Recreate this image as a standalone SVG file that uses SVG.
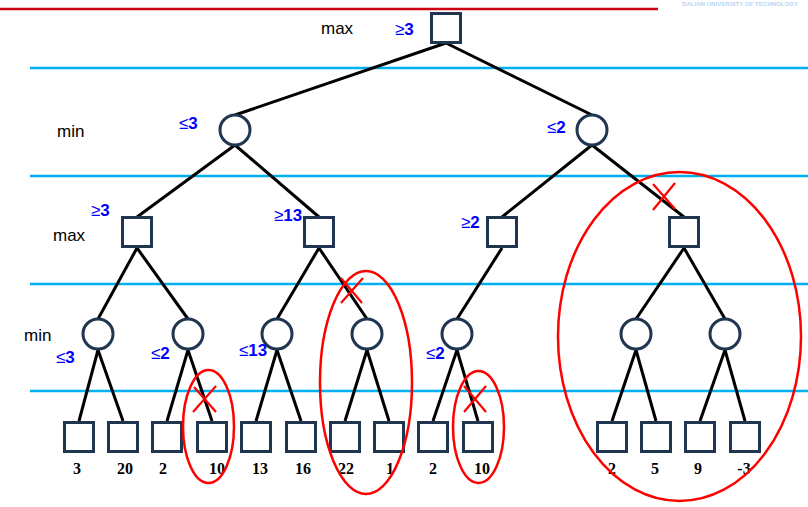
<svg xmlns="http://www.w3.org/2000/svg" width="808" height="507" viewBox="0 0 808 507">
<style>
.sq{fill:#fff;stroke:#1f3550;stroke-width:3}
.ci{fill:#fff;stroke:#1f3550;stroke-width:3}
.e{stroke:#000;stroke-width:3;fill:none}
.band{stroke:#00b0f0;stroke-width:2.5}
.lvl{font-family:"Liberation Sans",Arial,sans-serif;font-size:17px;fill:#000}
.bnd{font-family:"Liberation Sans",Arial,sans-serif;font-size:17px;font-weight:bold;fill:#0000ff}
.bnd .s{font-weight:normal}
.val{font-family:"Liberation Serif","Times New Roman",serif;font-size:16px;font-weight:bold;fill:#000;text-anchor:middle}
.cut{stroke:#ff0000;stroke-width:2.5;fill:none}
.x{stroke:#ff0000;stroke-width:2.2}
</style>
<rect width="808" height="507" fill="#fff"/>
<line x1="0" y1="9" x2="658" y2="9" stroke="#cc0010" stroke-width="2.5"/>
<text x="682" y="6" font-family="Liberation Sans,Arial,sans-serif" font-size="6" font-weight="bold" fill="#b8d4f0" textLength="116" lengthAdjust="spacingAndGlyphs">DALIAN UNIVERSITY OF TECHNOLOGY</text>
<g id="bands">
<line class="band" x1="30" y1="68" x2="808" y2="68"/>
<line class="band" x1="30" y1="176" x2="808" y2="176"/>
<line class="band" x1="30" y1="284" x2="808" y2="284"/>
<line class="band" x1="30" y1="391" x2="808" y2="391"/>
</g>
<g id="connectors">
<line class="e" x1="446" y1="43" x2="235" y2="115"/>
<line class="e" x1="446" y1="43" x2="592" y2="115"/>
<line class="e" x1="235" y1="145" x2="137" y2="217"/>
<line class="e" x1="235" y1="145" x2="319" y2="217"/>
<line class="e" x1="592" y1="145" x2="502" y2="217"/>
<line class="e" x1="592" y1="145" x2="684" y2="217"/>
<line class="e" x1="137" y1="248" x2="98" y2="319"/>
<line class="e" x1="137" y1="248" x2="188" y2="319"/>
<line class="e" x1="319" y1="248" x2="277" y2="319"/>
<line class="e" x1="319" y1="248" x2="367" y2="319"/>
<line class="e" x1="502" y1="248" x2="457" y2="319"/>
<line class="e" x1="684" y1="248" x2="636" y2="319"/>
<line class="e" x1="684" y1="248" x2="725" y2="319"/>
<line class="e" x1="98" y1="350" x2="79" y2="421"/>
<line class="e" x1="98" y1="350" x2="123" y2="421"/>
<line class="e" x1="188" y1="350" x2="167" y2="421"/>
<line class="e" x1="188" y1="350" x2="212" y2="421"/>
<line class="e" x1="277" y1="350" x2="256" y2="421"/>
<line class="e" x1="277" y1="350" x2="301" y2="421"/>
<line class="e" x1="367" y1="350" x2="345" y2="421"/>
<line class="e" x1="367" y1="350" x2="389" y2="421"/>
<line class="e" x1="457" y1="350" x2="433" y2="421"/>
<line class="e" x1="457" y1="350" x2="478" y2="421"/>
<line class="e" x1="636" y1="350" x2="612" y2="421"/>
<line class="e" x1="636" y1="350" x2="656" y2="421"/>
<line class="e" x1="725" y1="350" x2="700" y2="421"/>
<line class="e" x1="725" y1="350" x2="745" y2="421"/>
</g>
<g id="root"><rect class="sq" x="431.5" y="13.5" width="29" height="29"/></g>
<g id="n1"><circle class="ci" cx="235" cy="130" r="15"/></g>
<g id="n2"><circle class="ci" cx="592" cy="130" r="15"/></g>
<g id="n3"><rect class="sq" x="122.5" y="217.5" width="29" height="29"/></g>
<g id="n4"><rect class="sq" x="304.5" y="217.5" width="29" height="29"/></g>
<g id="n5"><rect class="sq" x="487.5" y="217.5" width="29" height="29"/></g>
<g id="n6"><rect class="sq" x="669.5" y="217.5" width="29" height="29"/></g>
<g id="n7"><circle class="ci" cx="98" cy="334" r="15"/></g>
<g id="n8"><circle class="ci" cx="188" cy="334" r="15"/></g>
<g id="n9"><circle class="ci" cx="277" cy="334" r="15"/></g>
<g id="n10"><circle class="ci" cx="367" cy="334" r="15"/></g>
<g id="n11"><circle class="ci" cx="457" cy="334" r="15"/></g>
<g id="n12"><circle class="ci" cx="636" cy="334" r="15"/></g>
<g id="n13"><circle class="ci" cx="725" cy="334" r="15"/></g>
<g id="leaves">
<rect class="sq" x="64.5" y="422.5" width="29" height="29"/>
<rect class="sq" x="108.5" y="422.5" width="29" height="29"/>
<rect class="sq" x="152.5" y="422.5" width="29" height="29"/>
<rect class="sq" x="197.5" y="422.5" width="29" height="29"/>
<rect class="sq" x="241.5" y="422.5" width="29" height="29"/>
<rect class="sq" x="286.5" y="422.5" width="29" height="29"/>
<rect class="sq" x="330.5" y="422.5" width="29" height="29"/>
<rect class="sq" x="374.5" y="422.5" width="29" height="29"/>
<rect class="sq" x="418.5" y="422.5" width="29" height="29"/>
<rect class="sq" x="463.5" y="422.5" width="29" height="29"/>
<rect class="sq" x="597.5" y="422.5" width="29" height="29"/>
<rect class="sq" x="641.5" y="422.5" width="29" height="29"/>
<rect class="sq" x="685.5" y="422.5" width="29" height="29"/>
<rect class="sq" x="730.5" y="422.5" width="29" height="29"/>
</g>
<g id="values">
<text class="val" x="77" y="474">3</text>
<text class="val" x="125" y="474">20</text>
<text class="val" x="163" y="474">2</text>
<text class="val" x="217" y="474">10</text>
<text class="val" x="260" y="474">13</text>
<text class="val" x="303" y="474">16</text>
<text class="val" x="346" y="474">22</text>
<text class="val" x="390" y="474">1</text>
<text class="val" x="433" y="474">2</text>
<text class="val" x="482" y="474">10</text>
<text class="val" x="612" y="474">2</text>
<text class="val" x="655" y="474">5</text>
<text class="val" x="698" y="474">9</text>
<text class="val" x="744" y="474">-3</text>
</g>
<g id="levels">
<text class="lvl" x="321" y="34">max</text>
<text class="lvl" x="57" y="137">min</text>
<text class="lvl" x="53" y="241">max</text>
<text class="lvl" x="24" y="341">min</text>
</g>
<g id="bounds">
<text class="bnd" x="395" y="35"><tspan class="s">≥</tspan>3</text>
<text class="bnd" x="179" y="129"><tspan class="s">≤</tspan>3</text>
<text class="bnd" x="547" y="133"><tspan class="s">≤</tspan>2</text>
<text class="bnd" x="91" y="216"><tspan class="s">≥</tspan>3</text>
<text class="bnd" x="274" y="221"><tspan class="s">≥</tspan>13</text>
<text class="bnd" x="461" y="228"><tspan class="s">≥</tspan>2</text>
<text class="bnd" x="56" y="363"><tspan class="s">≤</tspan>3</text>
<text class="bnd" x="151" y="359"><tspan class="s">≤</tspan>2</text>
<text class="bnd" x="239" y="356"><tspan class="s">≤</tspan>13</text>
<text class="bnd" x="426" y="359"><tspan class="s">≤</tspan>2</text>
</g>
<g id="pruning">
<ellipse class="cut" cx="208.5" cy="426.5" rx="25.5" ry="56.5"/>
<ellipse class="cut" cx="366" cy="382.5" rx="46" ry="111.5"/>
<ellipse class="cut" cx="478.5" cy="427" rx="25.5" ry="56"/>
<ellipse class="cut" cx="679.5" cy="336.5" rx="121.5" ry="164.5"/>
<line class="x" x1="194" y1="387" x2="216" y2="412"/>
<line class="x" x1="216" y1="386" x2="193" y2="412"/>
<line class="x" x1="341" y1="278" x2="362" y2="303"/>
<line class="x" x1="363" y1="278" x2="341" y2="303"/>
<line class="x" x1="464" y1="386" x2="486" y2="412"/>
<line class="x" x1="486" y1="386" x2="464" y2="412"/>
<line class="x" x1="653" y1="184" x2="675" y2="209"/>
<line class="x" x1="675" y1="183" x2="653" y2="210"/>
</g>
</svg>
